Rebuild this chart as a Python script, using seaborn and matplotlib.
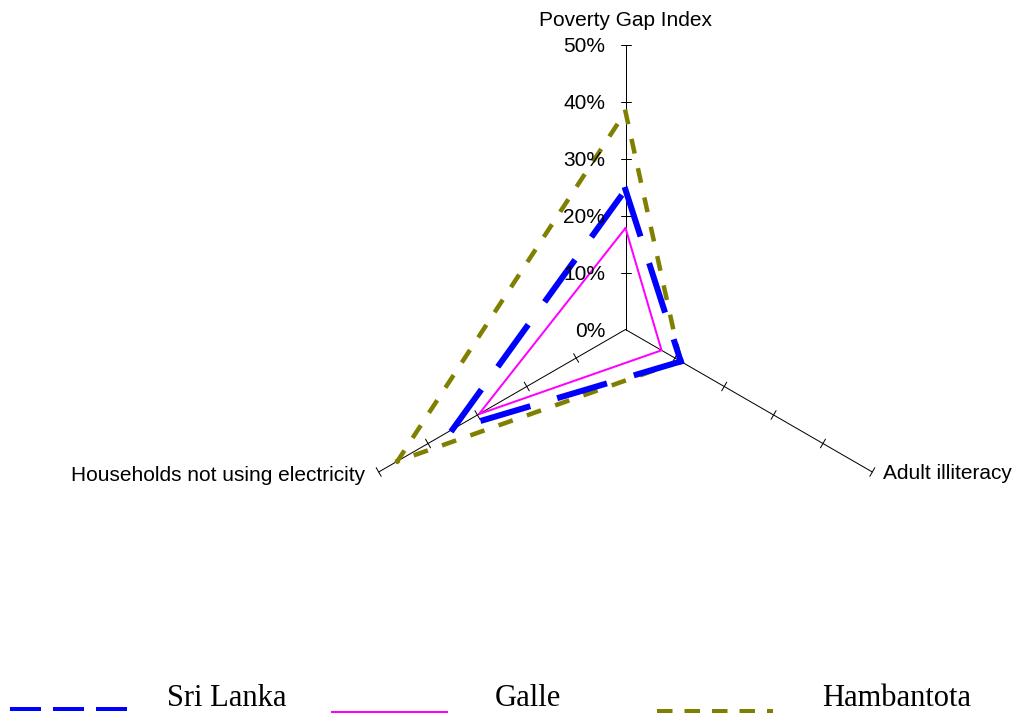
import numpy as np
import pandas as pd
import matplotlib
matplotlib.use("Agg")
import matplotlib.pyplot as plt
import seaborn as sns
from matplotlib.lines import Line2D

# data (percent)
axis_names = ["Poverty Gap Index", "Adult illiteracy", "Households not using electricity"]
series_names = ["Sri Lanka", "Galle", "Hambantota"]
sri_lanka = [24.5, 11.2, 35.0]
galle = [17.8, 7.3, 29.7]
hambantota = [38.2, 11.1, 46.2]
tick_values = [0, 10, 20, 30, 40, 50]
tick_labels = ["0%", "10%", "20%", "30%", "40%", "50%"]

sns.set_theme(style="white")
plt.rcParams["font.family"] = ["Liberation Sans", "DejaVu Sans"]
plt.rcParams["text.color"] = "black"
plt.rcParams["lines.scale_dashes"] = False

W, H, DPI = 1015, 713, 100
PT = 0.72          # points per pixel
SCALE = 5.7        # pixels per percent
cx, cy = 625.5, 329.5   # centre of the radar, pixels from top left

fig = plt.figure(figsize=(W / DPI, H / DPI), dpi=DPI)
ax = fig.add_axes([0, 0, 1, 1])
ax.set_xlim(-cx / SCALE, (W - cx) / SCALE)
ax.set_ylim(-(H - cy) / SCALE, cy / SCALE)
ax.axis("off")

angles = np.deg2rad([90, -30, 210])
vmax = tick_values[-1]


def pos(k, v):
    return v * np.cos(angles[k]), v * np.sin(angles[k])


# spokes and tick marks
half = 5 / SCALE
for k in range(3):
    x1, y1 = pos(k, vmax)
    ax.plot([0, x1], [0, y1], color="black", lw=1 * PT, zorder=1)
    nx, ny = -np.sin(angles[k]), np.cos(angles[k])
    for v in tick_values[1:]:
        px, py = pos(k, v)
        ax.plot([px - nx * half, px + nx * half], [py - ny * half, py + ny * half],
                color="black", lw=1 * PT, zorder=1)

# tick labels on the top spoke
for v, lab in zip(tick_values, tick_labels):
    ax.annotate(lab, xy=pos(0, v), xytext=(-20.5, 0), textcoords="offset pixels",
                ha="right", va="center_baseline", fontsize=15, color="black")

# spoke names
ax.annotate(axis_names[0], xy=pos(0, vmax), xytext=(0, 19), textcoords="offset pixels",
            ha="center", va="baseline", fontsize=15, color="black")
ax.annotate(axis_names[1], xy=pos(1, vmax), xytext=(11, -7), textcoords="offset pixels",
            ha="left", va="baseline", fontsize=15, color="black")
ax.annotate(axis_names[2], xy=pos(2, vmax), xytext=(-14, -9), textcoords="offset pixels",
            ha="right", va="baseline", fontsize=15, color="black")

colors = ["#0000FF", "#FF00FF", "#808000"]
widths = [6, 2, 4.5]                        # px
dashes = [(46, 34), None, (10.5, 19.5)]     # px, projecting caps add one width
order = [2, 0, 1]
values = [sri_lanka, galle, hambantota]

for i in order:
    pts = [pos(k, v) for k, v in enumerate(values[i])]
    lw = widths[i] * PT
    if dashes[i] is None:
        ring = pts + [pts[0]]
        df = pd.DataFrame({"x": [p[0] for p in ring], "y": [p[1] for p in ring]})
        sns.lineplot(data=df, x="x", y="y", sort=False, estimator=None, ax=ax,
                     color=colors[i], linewidth=lw, solid_joinstyle="miter",
                     legend=False, zorder=2)
    else:
        on, off = dashes[i]
        for k in range(3):
            p0, p1 = pts[k], pts[(k + 1) % 3]
            df = pd.DataFrame({"x": [p0[0], p1[0]], "y": [p0[1], p1[1]]})
            sns.lineplot(data=df, x="x", y="y", sort=False, estimator=None, ax=ax,
                         color=colors[i], linewidth=lw,
                         linestyle=(0, (on * PT, off * PT)),
                         dash_capstyle="projecting", legend=False, zorder=2)

# legend along the bottom
leg_handle_x = [(10, 127), (331, 448), (657, 773)]
leg_handle_y = [708.7, 711.5, 711]
leg_widths = [4, 2, 4]
leg_dashes = [(31, 12), None, (15.5, 12)]
leg_text_x = [166.7, 495, 822]
leg_text_y = 706

for i, name in enumerate(series_names):
    xa, xb = leg_handle_x[i]
    yy = 1 - leg_handle_y[i] / H
    ln = Line2D([xa / W, xb / W], [yy, yy], transform=fig.transFigure,
                color=colors[i], lw=leg_widths[i] * PT, solid_capstyle="butt",
                dash_capstyle="butt")
    if leg_dashes[i] is not None:
        ln.set_linestyle((0, (leg_dashes[i][0] * PT, leg_dashes[i][1] * PT)))
    fig.add_artist(ln)
    fig.text(leg_text_x[i] / W, 1 - leg_text_y / H, name, ha="left", va="baseline",
             fontsize=22, family=["Liberation Serif", "DejaVu Serif"], color="black")

fig.savefig("out.png", dpi=DPI)
